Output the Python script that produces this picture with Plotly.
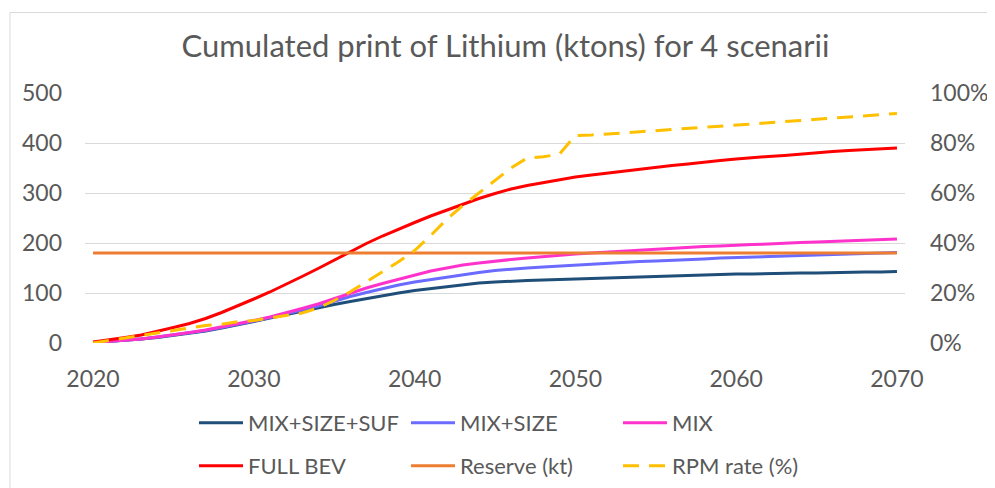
import plotly.graph_objects as go

years = list(range(2020, 2071))

mix_size_suf = [1, 3, 5, 8, 11, 15, 19, 24, 30, 36, 43, 50, 57, 64, 71, 77, 83, 89, 95, 100,
                105, 109, 113, 117, 120, 122, 124, 125, 126, 127, 128, 130, 131, 132, 133, 134,
                135, 136, 136, 137, 138, 138, 139, 139, 140, 140, 141, 141, 142, 142, 143]
mix_size = [1, 3, 5, 8, 12, 16, 20, 25, 31, 37, 44, 51, 58, 66, 74, 84, 93, 101, 109, 116,
            122, 127, 132, 137, 141, 145, 148, 150, 152, 154, 156, 158, 160, 161, 163, 164,
            165, 167, 168, 170, 171, 172, 173, 174, 175, 176, 177, 178, 179, 180, 181]
mix = [1, 3, 5, 8, 12, 16, 21, 26, 32, 38, 45, 52, 60, 69, 78, 89, 100, 110, 119, 127,
       136, 144, 150, 156, 160, 164, 167, 170, 173, 176, 178, 180, 182, 184, 186, 188,
       190, 191, 193, 194, 196, 197, 198, 200, 201, 202, 203, 204, 205, 206, 208]
full_bev = [2, 6, 11, 16, 23, 31, 39, 49, 61, 74, 88, 102, 117, 133, 149, 166, 183, 199, 214, 228,
            241, 254, 266, 278, 289, 299, 308, 315, 321, 327, 332, 336, 340, 343, 347, 351,
            355, 358, 362, 365, 368, 371, 373, 375, 378, 380, 383, 385, 387, 389, 390]
reserve = [180] * len(years)
rpm_rate = [0, 1, 2, 3, 4, 5, 6, 7, 7.5, 8.5, 9, 10, 11, 12, 14, 17, 20.5, 24.5, 28.5, 32.5,
            37, 43, 49.5, 55, 60, 65, 70, 74, 74.5, 75.5, 83, 83.2, 83.5, 84, 84.5, 85,
            85.5, 86, 86.3, 86.7, 87.1, 87.5, 88, 88.5, 89, 89.5, 90, 90.5, 91, 91.4, 91.8]

left_ticks = [0, 100, 200, 300, 400, 500]
right_ticks = [0, 20, 40, 60, 80, 100]
right_labels = ["0%", "20%", "40%", "60%", "80%", "100%"]
x_ticks = [2020, 2030, 2040, 2050, 2060, 2070]

FONT = "Lato"
GREY = "#595959"

# page body has an 8px default margin; layout coordinates are compensated for it
OFF = 8
W, H = 995, 488
PL, PR, PT, PB = 85 - OFF, 905 - OFF, 93 - OFF, 343 - OFF  # plot area in figure px
PW, PH = PR - PL, PB - PT


def px_x(x):
    return (x - OFF - PL) / PW


def px_y(y):
    return (PB - (y - OFF)) / PH


fig = go.Figure()
series = [
    ("MIX+SIZE+SUF", mix_size_suf, "#1F4E79", None, "y", "legend"),
    ("MIX+SIZE", mix_size, "#6B6BFF", None, "y", "legend"),
    ("MIX", mix, "#FF33CC", None, "y", "legend"),
    ("FULL BEV", full_bev, "#FF0000", None, "y", "legend2"),
    ("Reserve (kt)", reserve, "#ED7D31", None, "y", "legend2"),
    ("RPM rate (%)", rpm_rate, "#FFC000", "16px,10px", "y2", "legend2"),
]
for name, vals, color, dash, yax, leg in series:
    fig.add_trace(go.Scatter(
        x=years, y=vals, name=name, mode="lines", yaxis=yax, legend=leg,
        line=dict(color=color, width=3, dash=dash if dash else "solid"),
    ))

legend_common = dict(
    orientation="h", xanchor="left", yanchor="middle",
    font=dict(family=FONT, size=22, color=GREY),
    itemwidth=44, entrywidthmode="pixels", entrywidth=153,
    bgcolor="rgba(0,0,0,0)", traceorder="normal",
)
fig.update_layout(
    width=W, height=H,
    margin=dict(l=PL, r=W - PR, t=PT, b=H - PB, autoexpand=False),
    paper_bgcolor="white", plot_bgcolor="white",
    font=dict(family=FONT, color=GREY),
    title=dict(text="Cumulated print of Lithium (ktons) for 4 scenarii",
               x=0.5, xanchor="center", y=1 - 38 / H, yanchor="middle",
               font=dict(family=FONT, size=31, color=GREY)),
    xaxis=dict(range=[2019.5, 2070.5], tickvals=x_ticks, showgrid=False,
               zeroline=False, showline=False, ticks="", ticklabelstandoff=20,
               tickfont=dict(family=FONT, size=23, color=GREY)),
    yaxis=dict(range=[0, 500], tickvals=left_ticks, showgrid=True, gridcolor="#D9D9D9",
               gridwidth=1, zeroline=False, showline=False, ticks="", ticklabelstandoff=22,
               tickfont=dict(family=FONT, size=23, color=GREY)),
    yaxis2=dict(range=[0, 100], tickvals=right_ticks, ticktext=right_labels, overlaying="y",
                side="right", showgrid=False, zeroline=False, showline=False, ticks="",
                ticklabelstandoff=24, tickfont=dict(family=FONT, size=23, color=GREY)),
    legend=dict(x=px_x(194), y=px_y(423), **legend_common),
    legend2=dict(x=px_x(194), y=px_y(466), **legend_common),
    shapes=[dict(type="rect", xref="paper", yref="paper",
                 x0=px_x(10), x1=px_x(1020),
                 y0=px_y(520), y1=px_y(12.5),
                 line=dict(color="#D9D9D9", width=1), fillcolor="rgba(0,0,0,0)", layer="below")],
)

fig.write_html("out.html")
